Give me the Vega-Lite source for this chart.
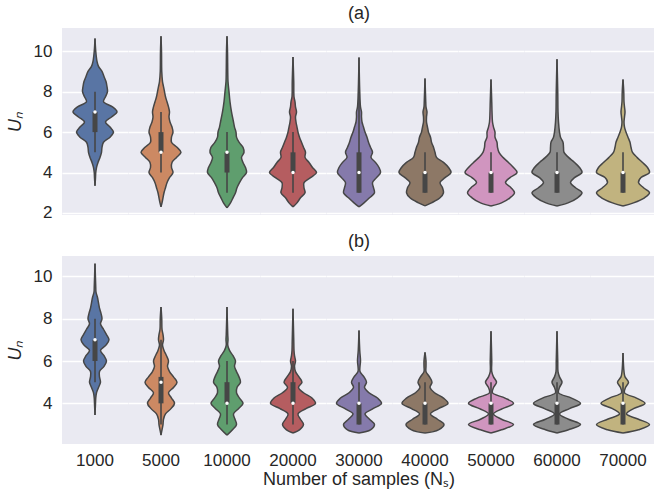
{
  "$schema": "https://vega.github.io/schema/vega-lite/v6.json",
  "padding": {"left": 6, "right": 0, "top": 5, "bottom": 0},
  "background": "white",
  "title": {"text": "Number of samples (Nₛ)", "orient": "bottom", "anchor": "middle", "frame": "bounds", "offset": 2, "dx": 28, "fontSize": 18, "fontWeight": "normal", "color": "#262626", "font": "Liberation Sans"},
  "config": {
    "font": "Liberation Sans",
    "view": {"fill": "#EAEAF2", "stroke": null},
    "axis": {"domain": false, "ticks": false, "grid": true, "gridColor": "#FFFFFF", "gridWidth": 1.3, "labelFontSize": 17, "labelColor": "#262626", "labelPadding": 10, "titleFontSize": 18, "titleFontStyle": "italic", "titleFontWeight": "normal", "titleColor": "#262626", "titlePadding": 9, "labelFont": "Liberation Sans", "titleFont": "Liberation Sans"},
    "header": {"labelFontSize": 17, "labelColor": "#262626", "labelFont": "Liberation Sans", "titleFontSize": 18, "titleFontWeight": "normal", "titleColor": "#262626", "titleFont": "Liberation Sans"},
    "concat": {"spacing": 12}
  },
  "datasets": {
    "all": [
      {"p":"a","n":"1000","v":3.35,"w":0},{"p":"a","n":"1000","v":3.75,"w":1},{"p":"a","n":"1000","v":4.0,"w":1.5},{"p":"a","n":"1000","v":4.25,"w":3},{"p":"a","n":"1000","v":4.5,"w":6},{"p":"a","n":"1000","v":4.75,"w":10},{"p":"a","n":"1000","v":5.0,"w":13},{"p":"a","n":"1000","v":5.25,"w":14},{"p":"a","n":"1000","v":5.5,"w":17},{"p":"a","n":"1000","v":5.75,"w":30},{"p":"a","n":"1000","v":6.0,"w":37},{"p":"a","n":"1000","v":6.25,"w":30},{"p":"a","n":"1000","v":6.5,"w":21},{"p":"a","n":"1000","v":6.75,"w":33},{"p":"a","n":"1000","v":7.0,"w":44},{"p":"a","n":"1000","v":7.25,"w":35},{"p":"a","n":"1000","v":7.5,"w":17},{"p":"a","n":"1000","v":7.75,"w":21},{"p":"a","n":"1000","v":8.0,"w":25},{"p":"a","n":"1000","v":8.25,"w":24},{"p":"a","n":"1000","v":8.5,"w":22},{"p":"a","n":"1000","v":8.75,"w":18},{"p":"a","n":"1000","v":9.0,"w":14},{"p":"a","n":"1000","v":9.25,"w":7},{"p":"a","n":"1000","v":9.5,"w":4},{"p":"a","n":"1000","v":10.0,"w":1.5},{"p":"a","n":"1000","v":10.63,"w":0},
      {"p":"a","n":"5000","v":2.3,"w":0},{"p":"a","n":"5000","v":2.5,"w":2},{"p":"a","n":"5000","v":2.75,"w":4},{"p":"a","n":"5000","v":3.0,"w":6},{"p":"a","n":"5000","v":3.25,"w":9},{"p":"a","n":"5000","v":3.5,"w":12},{"p":"a","n":"5000","v":3.75,"w":17},{"p":"a","n":"5000","v":4.0,"w":24},{"p":"a","n":"5000","v":4.25,"w":21},{"p":"a","n":"5000","v":4.5,"w":22},{"p":"a","n":"5000","v":4.75,"w":31},{"p":"a","n":"5000","v":5.0,"w":40},{"p":"a","n":"5000","v":5.25,"w":32},{"p":"a","n":"5000","v":5.5,"w":21},{"p":"a","n":"5000","v":5.75,"w":21},{"p":"a","n":"5000","v":6.0,"w":24},{"p":"a","n":"5000","v":6.25,"w":22},{"p":"a","n":"5000","v":6.5,"w":18},{"p":"a","n":"5000","v":6.75,"w":16},{"p":"a","n":"5000","v":7.0,"w":17},{"p":"a","n":"5000","v":7.25,"w":15},{"p":"a","n":"5000","v":7.5,"w":12},{"p":"a","n":"5000","v":7.75,"w":9},{"p":"a","n":"5000","v":8.0,"w":7},{"p":"a","n":"5000","v":8.25,"w":5},{"p":"a","n":"5000","v":8.5,"w":3},{"p":"a","n":"5000","v":9.0,"w":1.5},{"p":"a","n":"5000","v":10.0,"w":1},{"p":"a","n":"5000","v":10.74,"w":0},
      {"p":"a","n":"10000","v":2.25,"w":0},{"p":"a","n":"10000","v":2.5,"w":7},{"p":"a","n":"10000","v":2.75,"w":12},{"p":"a","n":"10000","v":3.0,"w":17},{"p":"a","n":"10000","v":3.25,"w":20},{"p":"a","n":"10000","v":3.5,"w":25},{"p":"a","n":"10000","v":3.75,"w":31},{"p":"a","n":"10000","v":4.0,"w":39},{"p":"a","n":"10000","v":4.25,"w":37},{"p":"a","n":"10000","v":4.5,"w":32},{"p":"a","n":"10000","v":4.75,"w":29},{"p":"a","n":"10000","v":5.0,"w":34},{"p":"a","n":"10000","v":5.25,"w":32},{"p":"a","n":"10000","v":5.5,"w":24},{"p":"a","n":"10000","v":5.75,"w":19},{"p":"a","n":"10000","v":6.0,"w":18},{"p":"a","n":"10000","v":6.25,"w":15},{"p":"a","n":"10000","v":6.5,"w":13},{"p":"a","n":"10000","v":6.75,"w":11},{"p":"a","n":"10000","v":7.0,"w":9},{"p":"a","n":"10000","v":7.5,"w":6},{"p":"a","n":"10000","v":8.0,"w":4},{"p":"a","n":"10000","v":8.5,"w":2},{"p":"a","n":"10000","v":9.0,"w":1.5},{"p":"a","n":"10000","v":10.0,"w":1},{"p":"a","n":"10000","v":10.74,"w":0},
      {"p":"a","n":"20000","v":2.3,"w":0},{"p":"a","n":"20000","v":2.5,"w":8},{"p":"a","n":"20000","v":2.75,"w":15},{"p":"a","n":"20000","v":3.0,"w":24},{"p":"a","n":"20000","v":3.25,"w":22},{"p":"a","n":"20000","v":3.5,"w":22},{"p":"a","n":"20000","v":3.75,"w":35},{"p":"a","n":"20000","v":4.0,"w":47},{"p":"a","n":"20000","v":4.25,"w":39},{"p":"a","n":"20000","v":4.5,"w":32},{"p":"a","n":"20000","v":4.75,"w":24},{"p":"a","n":"20000","v":5.0,"w":25},{"p":"a","n":"20000","v":5.25,"w":21},{"p":"a","n":"20000","v":5.5,"w":17},{"p":"a","n":"20000","v":5.75,"w":13},{"p":"a","n":"20000","v":6.0,"w":10},{"p":"a","n":"20000","v":6.25,"w":8},{"p":"a","n":"20000","v":6.5,"w":6},{"p":"a","n":"20000","v":6.75,"w":5},{"p":"a","n":"20000","v":7.0,"w":7},{"p":"a","n":"20000","v":7.25,"w":5},{"p":"a","n":"20000","v":7.5,"w":4},{"p":"a","n":"20000","v":7.75,"w":2},{"p":"a","n":"20000","v":8.5,"w":1.5},{"p":"a","n":"20000","v":9.72,"w":0},
      {"p":"a","n":"30000","v":2.3,"w":0},{"p":"a","n":"30000","v":2.5,"w":10},{"p":"a","n":"30000","v":2.75,"w":21},{"p":"a","n":"30000","v":3.0,"w":31},{"p":"a","n":"30000","v":3.25,"w":29},{"p":"a","n":"30000","v":3.5,"w":27},{"p":"a","n":"30000","v":3.75,"w":35},{"p":"a","n":"30000","v":4.0,"w":43},{"p":"a","n":"30000","v":4.25,"w":40},{"p":"a","n":"30000","v":4.5,"w":33},{"p":"a","n":"30000","v":4.75,"w":24},{"p":"a","n":"30000","v":5.0,"w":27},{"p":"a","n":"30000","v":5.25,"w":23},{"p":"a","n":"30000","v":5.5,"w":19},{"p":"a","n":"30000","v":5.75,"w":16},{"p":"a","n":"30000","v":6.0,"w":12},{"p":"a","n":"30000","v":6.25,"w":9},{"p":"a","n":"30000","v":6.5,"w":6},{"p":"a","n":"30000","v":6.75,"w":5},{"p":"a","n":"30000","v":7.0,"w":5},{"p":"a","n":"30000","v":7.25,"w":3},{"p":"a","n":"30000","v":8.0,"w":1.5},{"p":"a","n":"30000","v":9.69,"w":0},
      {"p":"a","n":"40000","v":2.35,"w":0},{"p":"a","n":"40000","v":2.5,"w":13},{"p":"a","n":"40000","v":2.75,"w":30},{"p":"a","n":"40000","v":3.0,"w":37},{"p":"a","n":"40000","v":3.25,"w":35},{"p":"a","n":"40000","v":3.5,"w":30},{"p":"a","n":"40000","v":3.75,"w":40},{"p":"a","n":"40000","v":4.0,"w":52},{"p":"a","n":"40000","v":4.25,"w":47},{"p":"a","n":"40000","v":4.5,"w":37},{"p":"a","n":"40000","v":4.75,"w":23},{"p":"a","n":"40000","v":5.0,"w":20},{"p":"a","n":"40000","v":5.25,"w":17},{"p":"a","n":"40000","v":5.5,"w":13},{"p":"a","n":"40000","v":5.75,"w":11},{"p":"a","n":"40000","v":6.0,"w":7},{"p":"a","n":"40000","v":6.25,"w":5},{"p":"a","n":"40000","v":6.5,"w":3},{"p":"a","n":"40000","v":6.75,"w":3},{"p":"a","n":"40000","v":7.0,"w":4},{"p":"a","n":"40000","v":7.25,"w":2},{"p":"a","n":"40000","v":7.5,"w":1.5},{"p":"a","n":"40000","v":8.65,"w":0},
      {"p":"a","n":"50000","v":2.35,"w":0},{"p":"a","n":"50000","v":2.5,"w":21},{"p":"a","n":"50000","v":2.75,"w":38},{"p":"a","n":"50000","v":3.0,"w":47},{"p":"a","n":"50000","v":3.25,"w":40},{"p":"a","n":"50000","v":3.5,"w":29},{"p":"a","n":"50000","v":3.75,"w":38},{"p":"a","n":"50000","v":4.0,"w":52},{"p":"a","n":"50000","v":4.25,"w":45},{"p":"a","n":"50000","v":4.5,"w":35},{"p":"a","n":"50000","v":4.75,"w":24},{"p":"a","n":"50000","v":5.0,"w":16},{"p":"a","n":"50000","v":5.25,"w":13},{"p":"a","n":"50000","v":5.5,"w":12},{"p":"a","n":"50000","v":5.75,"w":8},{"p":"a","n":"50000","v":6.0,"w":8},{"p":"a","n":"50000","v":6.25,"w":5},{"p":"a","n":"50000","v":6.5,"w":3},{"p":"a","n":"50000","v":7.0,"w":2},{"p":"a","n":"50000","v":7.5,"w":1.5},{"p":"a","n":"50000","v":8.6,"w":0},
      {"p":"a","n":"60000","v":2.35,"w":0},{"p":"a","n":"60000","v":2.5,"w":22},{"p":"a","n":"60000","v":2.75,"w":41},{"p":"a","n":"60000","v":3.0,"w":50},{"p":"a","n":"60000","v":3.25,"w":37},{"p":"a","n":"60000","v":3.5,"w":27},{"p":"a","n":"60000","v":3.75,"w":35},{"p":"a","n":"60000","v":4.0,"w":50},{"p":"a","n":"60000","v":4.25,"w":45},{"p":"a","n":"60000","v":4.5,"w":35},{"p":"a","n":"60000","v":4.75,"w":23},{"p":"a","n":"60000","v":5.0,"w":14},{"p":"a","n":"60000","v":5.25,"w":13},{"p":"a","n":"60000","v":5.5,"w":12},{"p":"a","n":"60000","v":5.75,"w":7},{"p":"a","n":"60000","v":6.0,"w":5},{"p":"a","n":"60000","v":6.5,"w":3},{"p":"a","n":"60000","v":7.0,"w":2},{"p":"a","n":"60000","v":8.0,"w":1.5},{"p":"a","n":"60000","v":9.6,"w":0},
      {"p":"a","n":"70000","v":2.35,"w":0},{"p":"a","n":"70000","v":2.5,"w":21},{"p":"a","n":"70000","v":2.75,"w":43},{"p":"a","n":"70000","v":3.0,"w":53},{"p":"a","n":"70000","v":3.25,"w":41},{"p":"a","n":"70000","v":3.5,"w":31},{"p":"a","n":"70000","v":3.75,"w":36},{"p":"a","n":"70000","v":4.0,"w":53},{"p":"a","n":"70000","v":4.25,"w":49},{"p":"a","n":"70000","v":4.5,"w":39},{"p":"a","n":"70000","v":4.75,"w":28},{"p":"a","n":"70000","v":5.0,"w":19},{"p":"a","n":"70000","v":5.25,"w":16},{"p":"a","n":"70000","v":5.5,"w":14},{"p":"a","n":"70000","v":5.75,"w":10},{"p":"a","n":"70000","v":6.0,"w":6},{"p":"a","n":"70000","v":6.25,"w":3},{"p":"a","n":"70000","v":6.5,"w":2},{"p":"a","n":"70000","v":6.75,"w":3},{"p":"a","n":"70000","v":7.0,"w":4},{"p":"a","n":"70000","v":7.25,"w":3},{"p":"a","n":"70000","v":7.5,"w":2},{"p":"a","n":"70000","v":8.0,"w":1.5},{"p":"a","n":"70000","v":8.6,"w":0},
      {"p":"b","n":"1000","v":3.45,"w":0},{"p":"b","n":"1000","v":4.0,"w":1},{"p":"b","n":"1000","v":4.25,"w":1.5},{"p":"b","n":"1000","v":4.5,"w":3},{"p":"b","n":"1000","v":4.75,"w":7},{"p":"b","n":"1000","v":5.0,"w":11},{"p":"b","n":"1000","v":5.25,"w":9},{"p":"b","n":"1000","v":5.5,"w":9},{"p":"b","n":"1000","v":5.75,"w":18},{"p":"b","n":"1000","v":6.0,"w":23},{"p":"b","n":"1000","v":6.25,"w":18},{"p":"b","n":"1000","v":6.5,"w":11},{"p":"b","n":"1000","v":6.75,"w":22},{"p":"b","n":"1000","v":7.0,"w":28},{"p":"b","n":"1000","v":7.25,"w":23},{"p":"b","n":"1000","v":7.5,"w":17},{"p":"b","n":"1000","v":7.75,"w":11},{"p":"b","n":"1000","v":8.0,"w":14},{"p":"b","n":"1000","v":8.25,"w":12},{"p":"b","n":"1000","v":8.5,"w":9},{"p":"b","n":"1000","v":8.75,"w":7},{"p":"b","n":"1000","v":9.0,"w":5},{"p":"b","n":"1000","v":9.25,"w":2},{"p":"b","n":"1000","v":9.5,"w":1.5},{"p":"b","n":"1000","v":10.6,"w":0},
      {"p":"b","n":"5000","v":2.5,"w":0},{"p":"b","n":"5000","v":2.75,"w":2},{"p":"b","n":"5000","v":3.0,"w":4},{"p":"b","n":"5000","v":3.25,"w":5},{"p":"b","n":"5000","v":3.5,"w":9},{"p":"b","n":"5000","v":3.75,"w":20},{"p":"b","n":"5000","v":4.0,"w":27},{"p":"b","n":"5000","v":4.25,"w":21},{"p":"b","n":"5000","v":4.5,"w":15},{"p":"b","n":"5000","v":4.75,"w":25},{"p":"b","n":"5000","v":5.0,"w":32},{"p":"b","n":"5000","v":5.25,"w":25},{"p":"b","n":"5000","v":5.5,"w":17},{"p":"b","n":"5000","v":5.75,"w":13},{"p":"b","n":"5000","v":6.0,"w":15},{"p":"b","n":"5000","v":6.25,"w":11},{"p":"b","n":"5000","v":6.5,"w":6},{"p":"b","n":"5000","v":6.75,"w":3},{"p":"b","n":"5000","v":7.0,"w":5},{"p":"b","n":"5000","v":7.25,"w":4},{"p":"b","n":"5000","v":7.5,"w":2},{"p":"b","n":"5000","v":8.0,"w":1.5},{"p":"b","n":"5000","v":8.55,"w":0},
      {"p":"b","n":"10000","v":2.5,"w":0},{"p":"b","n":"10000","v":2.75,"w":11},{"p":"b","n":"10000","v":3.0,"w":19},{"p":"b","n":"10000","v":3.25,"w":16},{"p":"b","n":"10000","v":3.5,"w":13},{"p":"b","n":"10000","v":3.75,"w":23},{"p":"b","n":"10000","v":4.0,"w":32},{"p":"b","n":"10000","v":4.25,"w":25},{"p":"b","n":"10000","v":4.5,"w":19},{"p":"b","n":"10000","v":4.75,"w":20},{"p":"b","n":"10000","v":5.0,"w":27},{"p":"b","n":"10000","v":5.25,"w":24},{"p":"b","n":"10000","v":5.5,"w":19},{"p":"b","n":"10000","v":5.75,"w":15},{"p":"b","n":"10000","v":6.0,"w":17},{"p":"b","n":"10000","v":6.25,"w":12},{"p":"b","n":"10000","v":6.5,"w":5},{"p":"b","n":"10000","v":6.75,"w":1.5},{"p":"b","n":"10000","v":7.0,"w":2},{"p":"b","n":"10000","v":7.25,"w":1.5},{"p":"b","n":"10000","v":8.55,"w":0},
      {"p":"b","n":"20000","v":2.6,"w":0},{"p":"b","n":"20000","v":2.75,"w":13},{"p":"b","n":"20000","v":3.0,"w":21},{"p":"b","n":"20000","v":3.25,"w":15},{"p":"b","n":"20000","v":3.5,"w":10},{"p":"b","n":"20000","v":3.75,"w":26},{"p":"b","n":"20000","v":4.0,"w":45},{"p":"b","n":"20000","v":4.25,"w":38},{"p":"b","n":"20000","v":4.5,"w":21},{"p":"b","n":"20000","v":4.75,"w":11},{"p":"b","n":"20000","v":5.0,"w":18},{"p":"b","n":"20000","v":5.25,"w":12},{"p":"b","n":"20000","v":5.5,"w":5},{"p":"b","n":"20000","v":5.75,"w":3},{"p":"b","n":"20000","v":6.0,"w":5},{"p":"b","n":"20000","v":6.25,"w":3},{"p":"b","n":"20000","v":6.5,"w":2},{"p":"b","n":"20000","v":7.0,"w":1.5},{"p":"b","n":"20000","v":8.47,"w":0},
      {"p":"b","n":"30000","v":2.6,"w":0},{"p":"b","n":"30000","v":2.75,"w":23},{"p":"b","n":"30000","v":3.0,"w":31},{"p":"b","n":"30000","v":3.25,"w":21},{"p":"b","n":"30000","v":3.5,"w":12},{"p":"b","n":"30000","v":3.75,"w":28},{"p":"b","n":"30000","v":4.0,"w":45},{"p":"b","n":"30000","v":4.25,"w":37},{"p":"b","n":"30000","v":4.5,"w":20},{"p":"b","n":"30000","v":4.75,"w":11},{"p":"b","n":"30000","v":5.0,"w":15},{"p":"b","n":"30000","v":5.25,"w":10},{"p":"b","n":"30000","v":5.5,"w":2},{"p":"b","n":"30000","v":5.75,"w":2},{"p":"b","n":"30000","v":6.0,"w":3},{"p":"b","n":"30000","v":6.5,"w":1.5},{"p":"b","n":"30000","v":7.44,"w":0},
      {"p":"b","n":"40000","v":2.6,"w":0},{"p":"b","n":"40000","v":2.75,"w":27},{"p":"b","n":"40000","v":3.0,"w":38},{"p":"b","n":"40000","v":3.25,"w":25},{"p":"b","n":"40000","v":3.5,"w":11},{"p":"b","n":"40000","v":3.75,"w":27},{"p":"b","n":"40000","v":4.0,"w":46},{"p":"b","n":"40000","v":4.25,"w":37},{"p":"b","n":"40000","v":4.5,"w":19},{"p":"b","n":"40000","v":4.75,"w":10},{"p":"b","n":"40000","v":5.0,"w":14},{"p":"b","n":"40000","v":5.25,"w":9},{"p":"b","n":"40000","v":5.5,"w":2},{"p":"b","n":"40000","v":5.75,"w":2},{"p":"b","n":"40000","v":6.0,"w":2},{"p":"b","n":"40000","v":6.41,"w":0},
      {"p":"b","n":"50000","v":2.6,"w":0},{"p":"b","n":"50000","v":2.75,"w":21},{"p":"b","n":"50000","v":3.0,"w":45},{"p":"b","n":"50000","v":3.25,"w":21},{"p":"b","n":"50000","v":3.5,"w":5},{"p":"b","n":"50000","v":3.75,"w":23},{"p":"b","n":"50000","v":4.0,"w":45},{"p":"b","n":"50000","v":4.25,"w":28},{"p":"b","n":"50000","v":4.5,"w":3},{"p":"b","n":"50000","v":4.75,"w":5},{"p":"b","n":"50000","v":5.0,"w":11},{"p":"b","n":"50000","v":5.25,"w":5},{"p":"b","n":"50000","v":5.5,"w":1.5},{"p":"b","n":"50000","v":6.0,"w":1.5},{"p":"b","n":"50000","v":7.41,"w":0},
      {"p":"b","n":"60000","v":2.6,"w":0},{"p":"b","n":"60000","v":2.75,"w":23},{"p":"b","n":"60000","v":3.0,"w":47},{"p":"b","n":"60000","v":3.25,"w":23},{"p":"b","n":"60000","v":3.5,"w":5},{"p":"b","n":"60000","v":3.75,"w":25},{"p":"b","n":"60000","v":4.0,"w":47},{"p":"b","n":"60000","v":4.25,"w":29},{"p":"b","n":"60000","v":4.5,"w":3},{"p":"b","n":"60000","v":4.75,"w":5},{"p":"b","n":"60000","v":5.0,"w":10},{"p":"b","n":"60000","v":5.25,"w":5},{"p":"b","n":"60000","v":5.5,"w":2},{"p":"b","n":"60000","v":6.0,"w":1.5},{"p":"b","n":"60000","v":7.41,"w":0},
      {"p":"b","n":"70000","v":2.6,"w":0},{"p":"b","n":"70000","v":2.75,"w":31},{"p":"b","n":"70000","v":3.0,"w":53},{"p":"b","n":"70000","v":3.25,"w":31},{"p":"b","n":"70000","v":3.5,"w":7},{"p":"b","n":"70000","v":3.75,"w":21},{"p":"b","n":"70000","v":4.0,"w":44},{"p":"b","n":"70000","v":4.25,"w":27},{"p":"b","n":"70000","v":4.5,"w":3},{"p":"b","n":"70000","v":4.75,"w":5},{"p":"b","n":"70000","v":5.0,"w":11},{"p":"b","n":"70000","v":5.25,"w":4},{"p":"b","n":"70000","v":5.5,"w":2},{"p":"b","n":"70000","v":6.38,"w":0},
      {"p":"a","n":"1000","q1":6,"q3":7,"med":7,"lo":5,"hi":8},
      {"p":"a","n":"5000","q1":5,"q3":6,"med":5,"lo":4,"hi":7},
      {"p":"a","n":"10000","q1":4,"q3":5,"med":5,"lo":3,"hi":6},
      {"p":"a","n":"20000","q1":4,"q3":5,"med":4,"lo":3,"hi":6},
      {"p":"a","n":"30000","q1":3,"q3":5,"med":4,"lo":3,"hi":8},
      {"p":"a","n":"40000","q1":3,"q3":4,"med":4,"lo":3,"hi":5},
      {"p":"a","n":"50000","q1":3,"q3":4,"med":4,"lo":3,"hi":5},
      {"p":"a","n":"60000","q1":3,"q3":4,"med":4,"lo":3,"hi":5},
      {"p":"a","n":"70000","q1":3,"q3":4,"med":4,"lo":3,"hi":5},
      {"p":"b","n":"1000","q1":6,"q3":7,"med":7,"lo":5,"hi":8},
      {"p":"b","n":"5000","q1":4,"q3":5.25,"med":5,"lo":3,"hi":7},
      {"p":"b","n":"10000","q1":4,"q3":5,"med":4,"lo":3,"hi":6},
      {"p":"b","n":"20000","q1":4,"q3":5,"med":4,"lo":3,"hi":6},
      {"p":"b","n":"30000","q1":3,"q3":4,"med":4,"lo":3,"hi":5},
      {"p":"b","n":"40000","q1":3,"q3":4,"med":4,"lo":3,"hi":5},
      {"p":"b","n":"50000","q1":3,"q3":4,"med":4,"lo":3,"hi":5},
      {"p":"b","n":"60000","q1":3,"q3":4,"med":4,"lo":3,"hi":5},
      {"p":"b","n":"70000","q1":3,"q3":4,"med":4,"lo":3,"hi":5}
    ]
  },
  "data": {"name": "all"},
  "vconcat": [
    {
      "transform": [{"filter": "datum.p == 'a'"}],
      "facet": {"column": {"field": "n", "type": "ordinal", "sort": ["1000","5000","10000","20000","30000","40000","50000","60000","70000"], "title": "(a)", "header": {"labels": false, "titleOrient": "top", "titlePadding": -5}}},
      "spacing": 0,
      "bounds": "flush",
      "spec": {
        "width": 66,
        "height": 187,
        "resolve": {"scale": {"x": "independent"}},
        "layer": [
          {
            "transform": [{"filter": "isValid(datum.w)"}],
            "mark": {"type": "area", "orient": "horizontal", "interpolate": "catmull-rom", "opacity": 1},
            "encoding": {
              "y": {"field": "v", "type": "quantitative", "title": "Uₙ", "scale": {"domain": [1.9, 11.15], "nice": false, "zero": false}, "axis": {"values": [2, 4, 6, 8, 10]}},
              "x": {"field": "w", "type": "quantitative", "stack": null, "scale": {"domain": [-66, 66], "nice": false, "zero": false}, "axis": null},
              "fill": {"field": "n", "type": "nominal", "legend": null, "scale": {"domain": ["1000","5000","10000","20000","30000","40000","50000","60000","70000"], "range": ["#5975a4","#cc8963","#5f9e6e","#b55d60","#857aab","#8d7866","#d095bf","#8c8c8c","#c1b37f"]}}
            }
          },
          {
            "transform": [{"filter": "isValid(datum.w)"}],
            "mark": {"type": "area", "orient": "horizontal", "interpolate": "catmull-rom", "opacity": 1},
            "encoding": {
              "y": {"field": "v", "type": "quantitative", "title": "Uₙ"},
              "x": {"field": "w", "type": "quantitative", "stack": null, "scale": {"domain": [-66, 66], "nice": false, "zero": false, "reverse": true}, "axis": null},
              "fill": {"field": "n", "type": "nominal", "legend": null}
            }
          },
          {
            "transform": [{"filter": "isValid(datum.w)"}],
            "mark": {"type": "line", "interpolate": "catmull-rom", "color": "#464646", "strokeWidth": 1.5},
            "encoding": {
              "y": {"field": "v", "type": "quantitative", "title": "Uₙ"},
              "x": {"field": "w", "type": "quantitative", "scale": {"domain": [-66, 66], "nice": false, "zero": false}, "axis": null},
              "order": {"field": "v", "type": "quantitative"}
            }
          },
          {
            "transform": [{"filter": "isValid(datum.w)"}],
            "mark": {"type": "line", "interpolate": "catmull-rom", "color": "#464646", "strokeWidth": 1.5},
            "encoding": {
              "y": {"field": "v", "type": "quantitative", "title": "Uₙ"},
              "x": {"field": "w", "type": "quantitative", "scale": {"domain": [-66, 66], "nice": false, "zero": false, "reverse": true}, "axis": null},
              "order": {"field": "v", "type": "quantitative"}
            }
          },
          {
            "transform": [{"filter": "isValid(datum.q1)"}],
            "mark": {"type": "rule", "color": "#464646", "strokeWidth": 1.6},
            "encoding": {
              "x": {"datum": 0, "type": "quantitative", "scale": {"domain": [-66, 66], "nice": false, "zero": false}, "axis": null},
              "y": {"field": "lo", "type": "quantitative", "title": "Uₙ"},
              "y2": {"field": "hi"}
            }
          },
          {
            "transform": [{"filter": "isValid(datum.q1)"}],
            "mark": {"type": "rule", "color": "#464646", "strokeWidth": 5},
            "encoding": {
              "x": {"datum": 0, "type": "quantitative", "scale": {"domain": [-66, 66], "nice": false, "zero": false}, "axis": null},
              "y": {"field": "q1", "type": "quantitative", "title": "Uₙ"},
              "y2": {"field": "q3"}
            }
          },
          {
            "transform": [{"filter": "isValid(datum.q1)"}],
            "mark": {"type": "point", "filled": true, "color": "white", "opacity": 1, "size": 12, "strokeWidth": 0},
            "encoding": {
              "x": {"datum": 0, "type": "quantitative", "scale": {"domain": [-66, 66], "nice": false, "zero": false}, "axis": null},
              "y": {"field": "med", "type": "quantitative", "title": "Uₙ"}
            }
          }
        ]
      }
    },
    {
      "transform": [{"filter": "datum.p == 'b'"}],
      "facet": {"column": {"field": "n", "type": "ordinal", "sort": ["1000","5000","10000","20000","30000","40000","50000","60000","70000"], "title": "(b)", "header": {"labelOrient": "bottom", "titleOrient": "top", "labelPadding": 9, "titlePadding": -5}}},
      "spacing": 0,
      "bounds": "flush",
      "spec": {
        "width": 66,
        "height": 188,
        "resolve": {"scale": {"x": "independent"}},
        "layer": [
          {
            "transform": [{"filter": "isValid(datum.w)"}],
            "mark": {"type": "area", "orient": "horizontal", "interpolate": "catmull-rom", "opacity": 1},
            "encoding": {
              "y": {"field": "v", "type": "quantitative", "title": "Uₙ", "scale": {"domain": [2.08, 10.96], "nice": false, "zero": false}, "axis": {"values": [4, 6, 8, 10]}},
              "x": {"field": "w", "type": "quantitative", "stack": null, "scale": {"domain": [-66, 66], "nice": false, "zero": false}, "axis": null},
              "fill": {"field": "n", "type": "nominal", "legend": null, "scale": {"domain": ["1000","5000","10000","20000","30000","40000","50000","60000","70000"], "range": ["#5975a4","#cc8963","#5f9e6e","#b55d60","#857aab","#8d7866","#d095bf","#8c8c8c","#c1b37f"]}}
            }
          },
          {
            "transform": [{"filter": "isValid(datum.w)"}],
            "mark": {"type": "area", "orient": "horizontal", "interpolate": "catmull-rom", "opacity": 1},
            "encoding": {
              "y": {"field": "v", "type": "quantitative", "title": "Uₙ"},
              "x": {"field": "w", "type": "quantitative", "stack": null, "scale": {"domain": [-66, 66], "nice": false, "zero": false, "reverse": true}, "axis": null},
              "fill": {"field": "n", "type": "nominal", "legend": null}
            }
          },
          {
            "transform": [{"filter": "isValid(datum.w)"}],
            "mark": {"type": "line", "interpolate": "catmull-rom", "color": "#464646", "strokeWidth": 1.5},
            "encoding": {
              "y": {"field": "v", "type": "quantitative", "title": "Uₙ"},
              "x": {"field": "w", "type": "quantitative", "scale": {"domain": [-66, 66], "nice": false, "zero": false}, "axis": null},
              "order": {"field": "v", "type": "quantitative"}
            }
          },
          {
            "transform": [{"filter": "isValid(datum.w)"}],
            "mark": {"type": "line", "interpolate": "catmull-rom", "color": "#464646", "strokeWidth": 1.5},
            "encoding": {
              "y": {"field": "v", "type": "quantitative", "title": "Uₙ"},
              "x": {"field": "w", "type": "quantitative", "scale": {"domain": [-66, 66], "nice": false, "zero": false, "reverse": true}, "axis": null},
              "order": {"field": "v", "type": "quantitative"}
            }
          },
          {
            "transform": [{"filter": "isValid(datum.q1)"}],
            "mark": {"type": "rule", "color": "#464646", "strokeWidth": 1.6},
            "encoding": {
              "x": {"datum": 0, "type": "quantitative", "scale": {"domain": [-66, 66], "nice": false, "zero": false}, "axis": null},
              "y": {"field": "lo", "type": "quantitative", "title": "Uₙ"},
              "y2": {"field": "hi"}
            }
          },
          {
            "transform": [{"filter": "isValid(datum.q1)"}],
            "mark": {"type": "rule", "color": "#464646", "strokeWidth": 5},
            "encoding": {
              "x": {"datum": 0, "type": "quantitative", "scale": {"domain": [-66, 66], "nice": false, "zero": false}, "axis": null},
              "y": {"field": "q1", "type": "quantitative", "title": "Uₙ"},
              "y2": {"field": "q3"}
            }
          },
          {
            "transform": [{"filter": "isValid(datum.q1)"}],
            "mark": {"type": "point", "filled": true, "color": "white", "opacity": 1, "size": 12, "strokeWidth": 0},
            "encoding": {
              "x": {"datum": 0, "type": "quantitative", "scale": {"domain": [-66, 66], "nice": false, "zero": false}, "axis": null},
              "y": {"field": "med", "type": "quantitative", "title": "Uₙ"}
            }
          }
        ]
      }
    }
  ]
}
